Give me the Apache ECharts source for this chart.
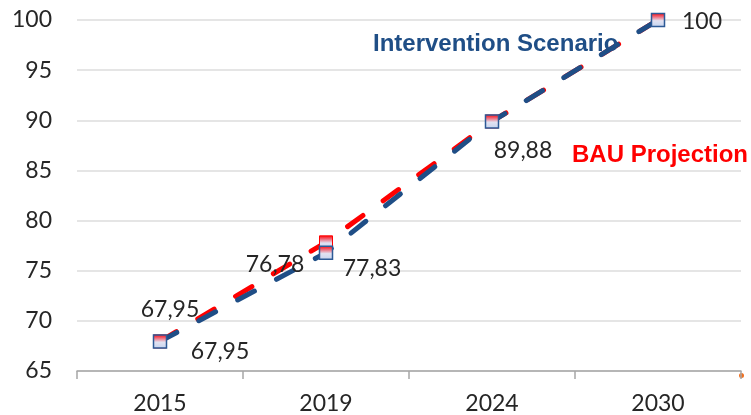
<!DOCTYPE html>
<html>
<head>
<meta charset="utf-8">
<script src="https://cdn.jsdelivr.net/npm/echarts@6/dist/echarts.min.js"></script>
<style>html,body{margin:0;padding:0;background:#fff}#c{width:751px;height:415px}</style>
</head>
<body>
<div id="c"></div>
<script>
var categories = ['2015', '2019', '2024', '2030'];
var bauValues = [67.95, 77.83, 89.88, 100];
var interventionValues = [67.95, 76.78, 89.88, 100];
var yMin = 65, yMax = 100, yInterval = 5;
var seriesNames = ['BAU Projection', 'Intervention Scenario'];

// label placement (styling only, not data)
var bauLabelOffsets = [[10, -32], [46, 26], null, null];
var intLabelOffsets = [[60, 10], [-51, 12], [31, 29], [44, 2]];

var labelFont = { fontFamily: 'Lato', fontSize: 23, color: '#262626' };
function fmt(v) { return String(v).replace('.', ','); }
function buildData(values, offsets) {
  return values.map(function (v, i) {
    var o = offsets[i];
    return {
      value: v,
      label: o ? Object.assign({ show: true, position: 'inside', offset: o, formatter: function (p) { return fmt(p.value); } }, labelFont) : { show: false }
    };
  });
}
var markerFill = new echarts.graphic.LinearGradient(0, 0, 0, 1, [
  { offset: 0, color: '#ff0000' },
  { offset: 0.25, color: '#f06070' },
  { offset: 0.55, color: '#e2e2f2' },
  { offset: 1, color: '#c4d3ee' }
]);
var chart = echarts.init(document.getElementById('c'));
chart.setOption({
  animation: false,
  grid: { left: 77, right: 10, top: 20, bottom: 44 },
  xAxis: {
    type: 'category',
    data: categories,
    boundaryGap: true,
    axisLine: { lineStyle: { color: '#a6a6a6', width: 1.5 } },
    axisTick: { show: true, length: 8, lineStyle: { color: '#a6a6a6', width: 1.5 } },
    axisLabel: { fontFamily: 'Lato', fontSize: 23, color: '#262626', margin: 21 },
    splitLine: { show: false }
  },
  yAxis: {
    type: 'value',
    min: yMin, max: yMax, interval: yInterval,
    axisLine: { show: false },
    axisTick: { show: false },
    axisLabel: { fontFamily: 'Lato', fontSize: 23, color: '#262626', margin: 25 },
    splitLine: { lineStyle: { color: '#dcdcdc', width: 1.5 } }
  },
  series: [
    {
      name: seriesNames[0], type: 'line',
      data: buildData(bauValues, bauLabelOffsets),
      lineStyle: { color: '#ff0000', width: 5, type: [19, 25], cap: 'round' },
      symbol: 'rect', symbolSize: 13,
      itemStyle: { color: markerFill, borderColor: '#ff0000', borderWidth: 1 },
      z: 2
    },
    {
      name: seriesNames[1], type: 'line',
      data: buildData(interventionValues, intLabelOffsets),
      lineStyle: { color: '#1f4e86', width: 5, type: [19, 25], cap: 'round' },
      symbol: 'rect', symbolSize: 13,
      itemStyle: { color: markerFill, borderColor: '#2d5a96', borderWidth: 1.5 },
      z: 3
    }
  ],
  graphic: [
    { type: 'text', left: 373, top: 32, z: 10,
      style: { text: seriesNames[1], fontFamily: 'Liberation Sans', fontWeight: 'bold', fontSize: 24, fill: '#1f4e86' } },
    { type: 'text', left: 572, top: 143, z: 10,
      style: { text: seriesNames[0], fontFamily: 'Liberation Sans', fontWeight: 'bold', fontSize: 24, fill: '#ff0000' } },
    { type: 'circle', right: 7, top: 373, shape: { r: 2.5 }, style: { fill: '#f07020' } }
  ]
});
</script>
</body>
</html>
